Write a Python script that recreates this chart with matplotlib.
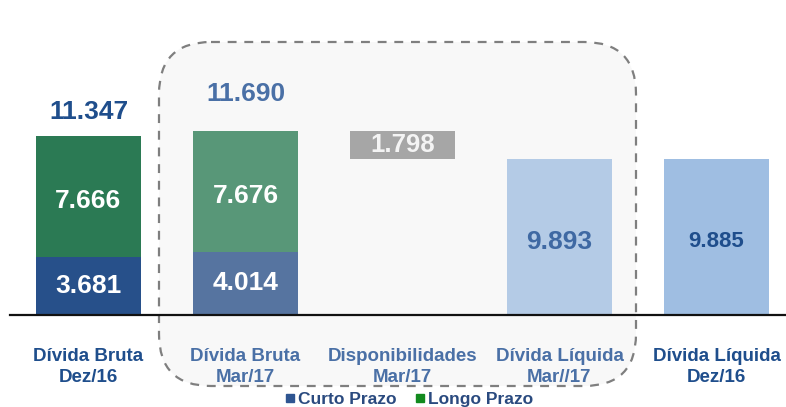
import matplotlib
matplotlib.use('Agg')
import matplotlib.pyplot as plt
from matplotlib.patches import FancyBboxPatch
from matplotlib.lines import Line2D

# %% Data (R$ milhões)
categorias   = ['Dívida Bruta\nDez/16', 'Dívida Bruta\nMar/17', 'Disponibilidades\nMar/17',
                'Dívida Líquida\nMar//17', 'Dívida Líquida\nDez/16']
curto_prazo  = [3681, 4014]          # Dez/16, Mar/17
longo_prazo  = [7666, 7676]
disponib     = 1798
div_liquida  = [9893, 9885]          # Mar/17, Dez/16

def fmt(v):
    return '{:,}'.format(v).replace(',', '.')

# %% Colors
dark_blue   = '#1f4e8c'
mid_blue    = '#4a70a6'
c_curto     = ['#27508a', '#5674a0']
c_longo     = ['#2b7a54', '#589778']
c_disp      = '#a6a6a6'
c_liq       = ['#b4cbe6', '#9fbee2']

num_font    = ['Liberation Sans', 'DejaVu Sans']

W, H = 786, 407
fig = plt.figure(figsize=(W/100, H/100), dpi=100)

# background axes in pixel units for the dashed box
bg = fig.add_axes([0, 0, 1, 1], zorder=0)
bg.set_xlim(0, W)
bg.set_ylim(H, 0)
bg.axis('off')
box = FancyBboxPatch((159, 42), 477, 344, boxstyle='round,pad=0,rounding_size=52',
                     facecolor='#f8f8f8', edgecolor='#7f7f7f', linewidth=1.6,
                     linestyle=(0, (4, 3.5)))
bg.add_patch(box)

# main axes
x0, baseline = 10, 315
ax = fig.add_axes([x0/W, (H-baseline)/H, (W-x0)/W, baseline/H], zorder=1)
ax.patch.set_alpha(0)
px_per_unit = 15.77/1000
ax.set_ylim(0, baseline/px_per_unit)
spacing = 157
ax.set_xlim(-(88.5-x0)/spacing, (W-88.5)/spacing)
for s in ['top', 'right', 'left']:
    ax.spines[s].set_visible(False)
ax.spines['bottom'].set_linewidth(1.6)
ax.spines['bottom'].set_color('#111111')
ax.set_xticks([])
ax.set_yticks([])

width = 105/spacing
xs = [0, 1, 2, 3, 4]

# Dívida Bruta (stacked)
for i, xi in enumerate([0, 1]):
    ax.bar(xi, curto_prazo[i], width, color=c_curto[i])
    ax.bar(xi, longo_prazo[i], width, bottom=curto_prazo[i], color=c_longo[i])
    ax.text(xi, curto_prazo[i]/2, fmt(curto_prazo[i]), ha='center', va='center',
            color='white', fontsize=19, fontweight='bold', family=num_font)
    ax.text(xi, curto_prazo[i] + longo_prazo[i]*0.46, fmt(longo_prazo[i]), ha='center',
            va='center', color='white', fontsize=19, fontweight='bold', family=num_font)

total_dez = curto_prazo[0] + longo_prazo[0]
total_mar = curto_prazo[1] + longo_prazo[1]
ax.text(0, total_dez + 1500, fmt(total_dez), ha='center', va='center', color=dark_blue,
        fontsize=19, fontweight='bold', family=num_font)
ax.text(1, total_mar + 2350, fmt(total_mar), ha='center', va='center', color=mid_blue,
        fontsize=19, fontweight='bold', family=num_font)

# Disponibilidades (floating)
ax.bar(2, disponib, width, bottom=total_mar - disponib, color=c_disp)
ax.text(2, total_mar - disponib/2, fmt(disponib), ha='center', va='center',
        color='#f4f4f4', fontsize=18.5, fontweight='bold', family=num_font)

# Dívida Líquida
ax.bar(3, div_liquida[0], width, color=c_liq[0])
ax.bar(4, div_liquida[1], width, color=c_liq[1])
ax.text(3, div_liquida[0]*0.47, fmt(div_liquida[0]), ha='center', va='center',
        color='#3f69a3', fontsize=19, fontweight='bold', family=num_font)
ax.text(4, div_liquida[1]*0.47, fmt(div_liquida[1]), ha='center', va='center',
        color=dark_blue, fontsize=16, fontweight='bold', family=num_font)

# category labels
cat_colors = [dark_blue, mid_blue, mid_blue, mid_blue, dark_blue]
for xi, lab, c in zip(xs, categorias, cat_colors):
    ax.text(xi, -(367-baseline)/px_per_unit, lab, ha='center', va='center', color=c,
            fontsize=13.5, fontweight='bold', family=num_font, linespacing=1.3)

# legend
handles = [Line2D([], [], marker='s', linestyle='none', color='#2e5591', markersize=6),
           Line2D([], [], marker='s', linestyle='none', color='#128a1e', markersize=6)]
leg = fig.legend(handles, ['Curto Prazo', 'Longo Prazo'], loc='center',
                 bbox_to_anchor=(408/W, (H-399)/H), ncol=2, frameon=False,
                 borderpad=0, borderaxespad=0,
                 handletextpad=0.05, columnspacing=1.0, handlelength=0.8,
                 prop={'family': num_font, 'weight': 'bold', 'size': 12.5},
                 labelcolor='#2a4a7f')

fig.savefig('out.png', dpi=100)
